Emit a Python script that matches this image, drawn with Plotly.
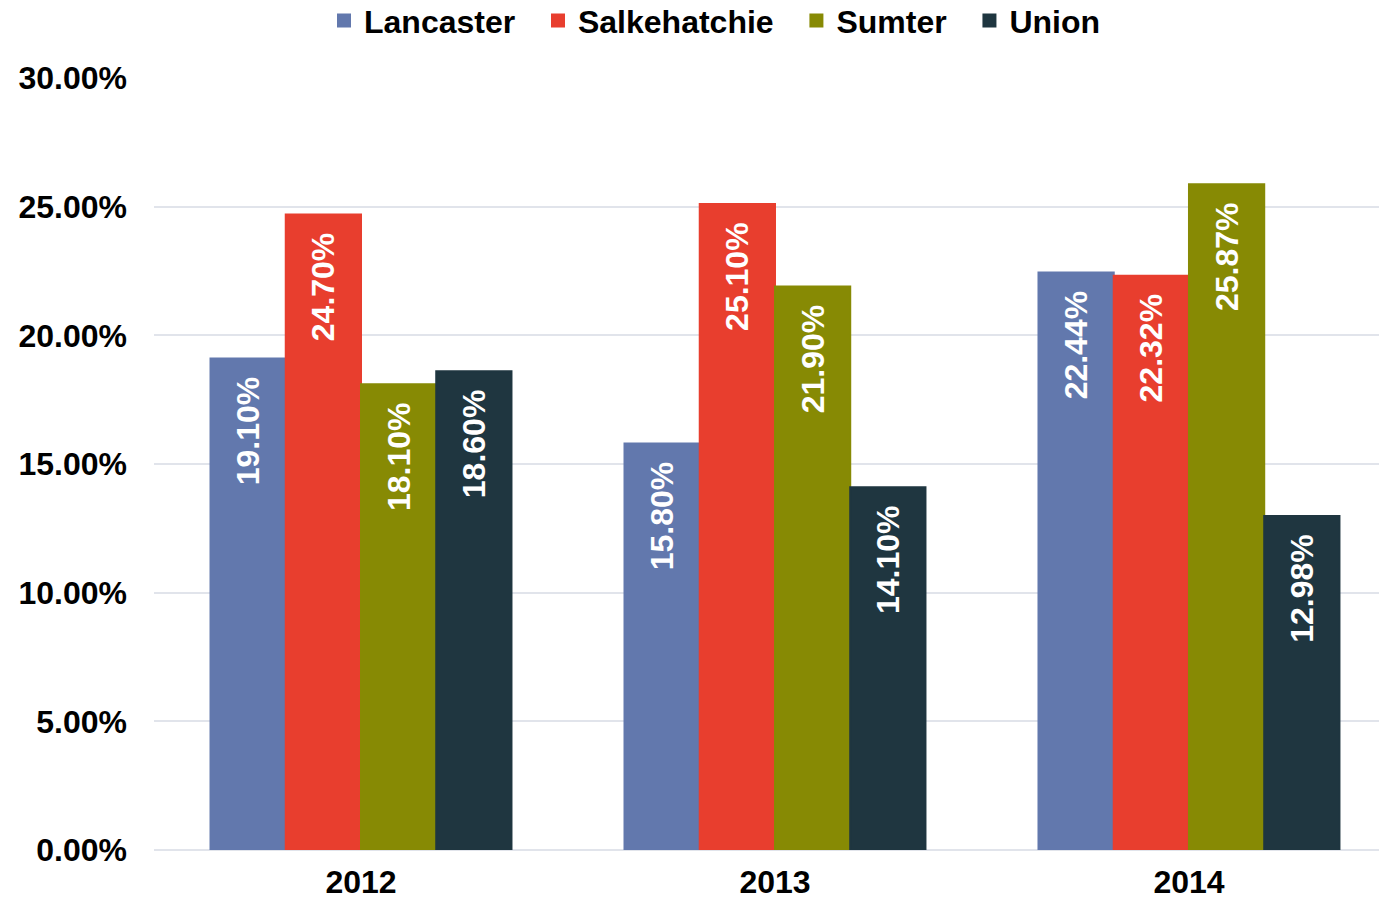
import plotly.graph_objects as go

years = ["2012", "2013", "2014"]
series_names = ["Lancaster", "Salkehatchie", "Sumter", "Union"]
lancaster = [19.10, 15.80, 22.44]
salkehatchie = [24.70, 25.10, 22.32]
sumter = [18.10, 21.90, 25.87]
union = [18.60, 14.10, 12.98]
colors = ["#6278AD", "#E83E2E", "#878A04", "#1F3640"]
y_ticks = [0, 5, 10, 15, 20, 25, 30]

FONT = "Liberation Sans, Arial, sans-serif"
FS = 32

fig = go.Figure()
for i, (name, vals, col) in enumerate(zip(series_names, [lancaster, salkehatchie, sumter, union], colors)):
    label = name if i == len(series_names) - 1 else name + "\u00a0\u00a0"
    fig.add_trace(go.Bar(
        name=label, x=years, y=vals,
        marker=dict(color=col, line=dict(width=2, color=col)),
        text=[f"{v:.2f}%\u00a0\u2009" for v in vals],
        textposition="inside", insidetextanchor="end", textangle=-90,
        constraintext="none",
        textfont=dict(family=FONT, size=FS, color="white", weight="bold"),
        hoverinfo="skip",
    ))

fig.update_layout(
    width=1379, height=901,
    barmode="group", bargap=0.273, bargroupgap=0,
    plot_bgcolor="white", paper_bgcolor="white",
    margin=dict(l=154, r=0, t=78, b=51, autoexpand=False),
    font=dict(family=FONT, color="black"),
    legend=dict(
        orientation="h", xref="container", yref="container",
        x=0.5185, xanchor="center", y=0.977, yanchor="middle",
        font=dict(family=FONT, size=FS, color="black", weight="bold"),
        traceorder="normal", bgcolor="rgba(0,0,0,0)",
    ),
    xaxis=dict(
        type="category", range=[-0.5, 2.459], automargin=False,
        tickfont=dict(family=FONT, size=FS, color="black", weight="bold"),
        showgrid=False, showline=False, ticks="", ticklabelstandoff=10,
    ),
    yaxis=dict(
        range=[0, 30], tickvals=y_ticks, automargin=False,
        ticktext=[f"{v:.2f}%" for v in y_ticks],
        tickfont=dict(family=FONT, size=FS, color="black", weight="bold"),
        showgrid=True, gridcolor="#E1E4EB", gridwidth=2,
        zeroline=True, zerolinecolor="#E1E4EB", zerolinewidth=2,
        ticks="", ticklabelstandoff=26,
    ),
)

fig.write_html(
    "out.html",
    config={"displayModeBar": False},
    post_script="document.body.style.margin='0';document.body.style.overflow='hidden';",
)
